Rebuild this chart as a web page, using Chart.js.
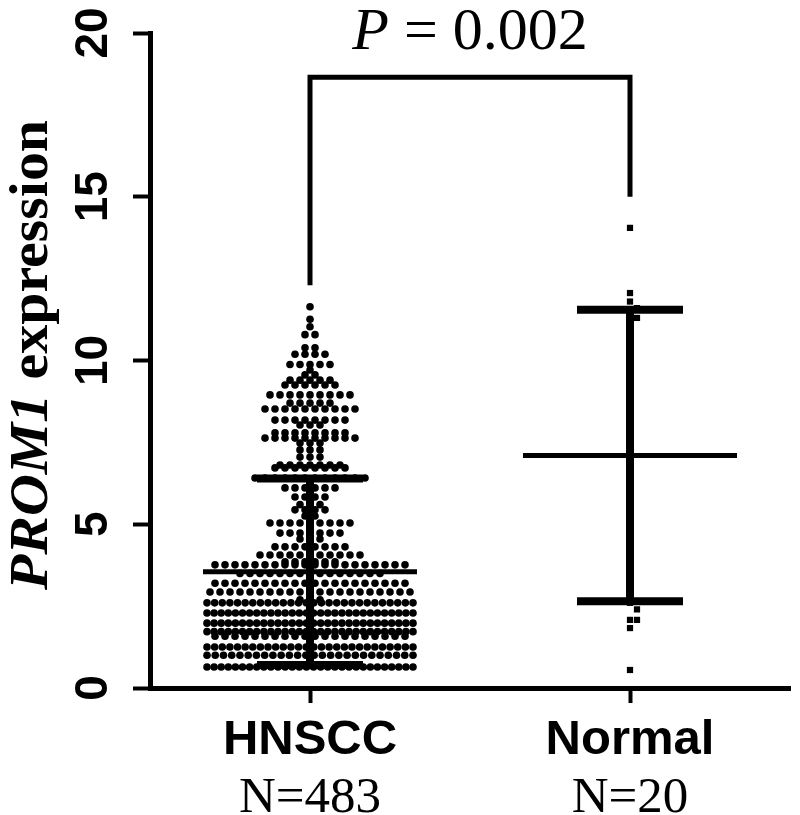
<!DOCTYPE html>
<html>
<head>
<meta charset="utf-8">
<script src="https://cdn.jsdelivr.net/npm/chart.js@4"></script>
<style>
  html, body { margin: 0; padding: 0; background: #fff; }
  #wrap { width: 800px; height: 815px; }
</style>
</head>
<body>
<div id="wrap"><canvas id="chart" width="800" height="815"></canvas></div>
<script>
// ---- data ----
const categories = ['HNSCC', 'Normal'];
const sampleSizes = ['N=483', 'N=20'];
const yTicks = [0, 5, 10, 15, 20];

// HNSCC dot plot, row by row (value of the row, dots in that row)
const hnsccLevels = [11.64, 11.26, 11.03, 10.79, 10.39, 10.19, 9.88, 9.71, 9.56, 9.40, 9.25, 8.95, 8.70, 8.52,
  8.18, 8.03, 7.79, 7.63, 7.48, 7.27, 7.05, 6.81, 6.72, 6.41, 6.11, 5.83, 5.60, 5.44, 5.25, 5.04, 4.73, 4.55,
  4.31, 4.06, 3.85, 3.76, 3.50, 3.20, 2.93, 2.69, 2.60, 2.29, 1.98, 1.72, 1.58, 1.25, 1.00, 0.64];
const hnsccCounts = [1, 1, 1, 2, 2, 4, 5, 1, 2, 5, 6, 9, 5, 10,
  8, 3, 8, 10, 3, 3, 3, 7, 8, 12, 6, 4, 3, 4, 2, 9, 7, 3,
  8, 11, 6, 20, 15, 20, 21, 3, 28, 30, 30, 30, 20, 28, 26, 30];

// Normal tissue samples
const normalValues = [14.05, 12.06, 11.8, 11.6, 11.3, 11.3, 10.0, 9.1, 8.85, 8.4, 7.3, 6.2, 5.0, 3.5,
  2.6, 2.4, 2.08, 2.08, 1.83, 0.55];

// mean +/- SD bars
const groupMeans = [3.55, 7.1];
const groupSDs = [2.85, 4.45];

// significance bracket
const pValue = '0.002';
const bracketTop = 18.65;
const bracketLegEnds = [12.3, 15.0];

// ---- layout helpers (pixels -> data units) ----
const PX_PER_X = 320;     // 1 category step
const PX_PER_Y = 32.75;   // 1 unit of expression
const DOT_GAP = 10;
const MAX_HALF = 103;
const SQ_GAP = 7;

// rows of the beeswarm, centred on the category
function rowPoints(cat, levels, counts) {
  const pts = [];
  levels.forEach((v, i) => {
    const n = counts[i];
    const gap = n > 1 ? Math.min(DOT_GAP, 2 * MAX_HALF / (n - 1)) : 0;
    for (let k = 0; k < n; k++) {
      pts.push({ x: cat + (k - (n - 1) / 2) * gap / PX_PER_X, y: v });
    }
  });
  return pts;
}

// simple swarm for the small group
function swarmPoints(cat, values) {
  const placed = [];
  values.slice().sort((a, b) => b - a).forEach(v => {
    const py = v * PX_PER_Y;
    for (let j = 0; j < 40; j++) {
      const off = (j % 2 ? 1 : -1) * Math.ceil(j / 2) * SQ_GAP;
      const hit = placed.some(p => Math.abs(p.py - py) < SQ_GAP && Math.abs(p.off - off) < SQ_GAP);
      if (!hit) { placed.push({ py, off, v }); break; }
    }
  });
  return placed.map(p => ({ x: cat + p.off / PX_PER_X, y: p.v }));
}

const SANS = '"Liberation Sans", Arial, sans-serif';
const SERIF = '"Liberation Serif", "Times New Roman", serif';

function line(ctx, x1, y1, x2, y2, w) {
  ctx.lineWidth = w;
  ctx.beginPath();
  ctx.moveTo(x1, y1);
  ctx.lineTo(x2, y2);
  ctx.stroke();
}

// bars, bracket and the extra texts
const overlay = {
  id: 'overlay',
  afterDatasetsDraw(chart) {
    const { ctx, scales: { x, y } } = chart;
    ctx.save();
    ctx.strokeStyle = '#000';
    ctx.fillStyle = '#000';
    ctx.lineCap = 'butt';

    categories.forEach((c, i) => {
      const cx = x.getPixelForValue(i);
      const yTop = y.getPixelForValue(groupMeans[i] + groupSDs[i]);
      const yBot = y.getPixelForValue(groupMeans[i] - groupSDs[i]);
      const yMean = y.getPixelForValue(groupMeans[i]);
      line(ctx, cx, yTop, cx, yBot, 8);
      line(ctx, cx - 53, yTop, cx + 53, yTop, 8);
      line(ctx, cx - 53, yBot, cx + 53, yBot, 8);
      line(ctx, cx - 107, yMean, cx + 107, yMean, 5);
    });

    // bracket
    const x0 = x.getPixelForValue(0), x1 = x.getPixelForValue(1);
    const yb = y.getPixelForValue(bracketTop);
    ctx.lineJoin = 'miter';
    ctx.lineWidth = 5;
    ctx.beginPath();
    ctx.moveTo(x0, y.getPixelForValue(bracketLegEnds[0]));
    ctx.lineTo(x0, yb);
    ctx.lineTo(x1, yb);
    ctx.lineTo(x1, y.getPixelForValue(bracketLegEnds[1]));
    ctx.stroke();

    // P value
    const pFont = 'italic 60px ' + SERIF;
    const restFont = '60px ' + SERIF;
    const rest = ' = ' + pValue;
    ctx.font = pFont;
    const wP = ctx.measureText('P').width;
    ctx.font = restFont;
    const wR = ctx.measureText(rest).width;
    const start = (x0 + x1) / 2 - (wP + wR) / 2;
    ctx.textBaseline = 'alphabetic';
    ctx.textAlign = 'left';
    ctx.font = pFont;
    ctx.fillText('P', start, 49);
    ctx.font = restFont;
    ctx.fillText(rest, start + wP, 49);

    // sample sizes under category names
    ctx.font = '51px ' + SERIF;
    ctx.textAlign = 'center';
    sampleSizes.forEach((s, i) => ctx.fillText(s, x.getPixelForValue(i), 812));

    // rotated y tick labels
    ctx.font = 'bold 46px ' + SANS;
    ctx.textBaseline = 'middle';
    yTicks.forEach(v => {
      ctx.save();
      ctx.translate(94, y.getPixelForValue(v));
      ctx.rotate(-Math.PI / 2);
      ctx.fillText(String(v), 0, 0);
      ctx.restore();
    });

    // y axis title
    const tA = 'PROM1', tB = ' expression';
    const fA = 'italic bold 55px ' + SERIF, fB = 'bold 55px ' + SERIF;
    ctx.font = fA; const wA = ctx.measureText(tA).width;
    ctx.font = fB; const wB = ctx.measureText(tB).width;
    ctx.save();
    ctx.translate(47, 355);
    ctx.rotate(-Math.PI / 2);
    ctx.scale(470 / (wA + wB), 1);
    ctx.textAlign = 'left';
    ctx.textBaseline = 'alphabetic';
    ctx.font = fA; ctx.fillText(tA, -(wA + wB) / 2, 0);
    ctx.font = fB; ctx.fillText(tB, -(wA + wB) / 2 + wA, 0);
    ctx.restore();

    ctx.restore();
  }
};

new Chart(document.getElementById('chart'), {
  type: 'scatter',
  data: {
    datasets: [
      {
        label: categories[0],
        data: rowPoints(0, hnsccLevels, hnsccCounts),
        pointStyle: 'circle',
        pointRadius: 3.8,
        pointBackgroundColor: '#000',
        pointBorderWidth: 0
      },
      {
        label: categories[1],
        data: swarmPoints(1, normalValues),
        pointStyle: 'rect',
        pointRadius: 4.4,
        pointBackgroundColor: '#000',
        pointBorderWidth: 0
      }
    ]
  },
  options: {
    responsive: false,
    animation: false,
    devicePixelRatio: 1,
    layout: { padding: { top: 33, right: 10, left: 0, bottom: 0 } },
    plugins: {
      legend: { display: false },
      tooltip: { enabled: false }
    },
    scales: {
      x: {
        type: 'linear',
        min: -0.5,
        max: 1.5,
        afterBuildTicks: s => { s.ticks = [{ value: 0 }, { value: 1 }]; },
        afterFit: s => { s.height = 127; },
        ticks: {
          callback: v => categories[v],
          color: '#000',
          font: { family: SANS, size: 49, weight: 'bold' },
          padding: 8,
          maxRotation: 0
        },
        grid: { display: true, drawOnChartArea: false, drawTicks: true, tickLength: 15, tickWidth: 4, tickColor: '#000' },
        border: { display: true, color: '#000', width: 5 }
      },
      y: {
        min: 0,
        max: 20,
        afterBuildTicks: s => { s.ticks = yTicks.map(v => ({ value: v })); },
        afterFit: s => { s.width = 150; },
        ticks: { display: false },
        grid: { display: true, drawOnChartArea: false, drawTicks: true, tickLength: 17, tickWidth: 4, tickColor: '#000' },
        border: { display: true, color: '#000', width: 5 }
      }
    }
  },
  plugins: [overlay]
});
</script>
</body>
</html>
